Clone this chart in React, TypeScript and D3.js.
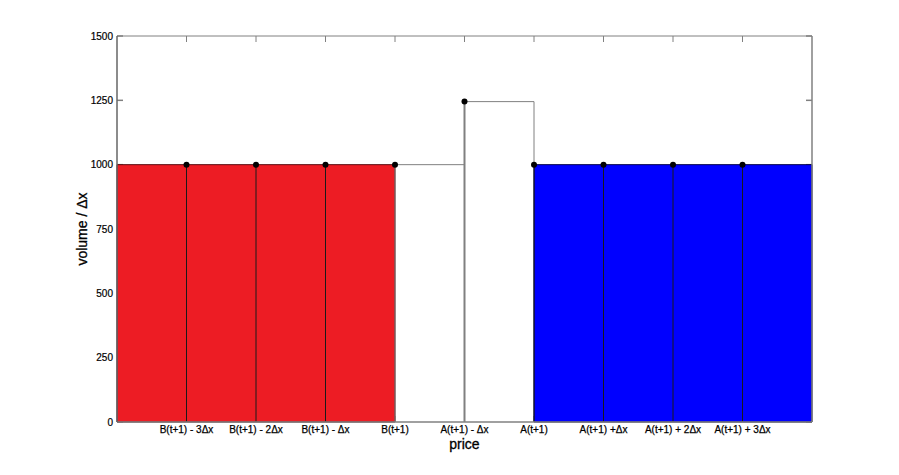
import React from 'react';
import * as d3 from 'd3';

const priceLabels = [
  'B(t+1) - 3Δx', 'B(t+1) - 2Δx', 'B(t+1) - Δx', 'B(t+1)',
  'A(t+1) - Δx', 'A(t+1)', 'A(t+1) +Δx', 'A(t+1) + 2Δx', 'A(t+1) + 3Δx',
];
const pricePositions = [1, 2, 3, 4, 5, 6, 7, 8, 9];
const stemValues = [1000, 1000, 1000, 1000, 1245, 1000, 1000, 1000, 1000];
const bidPositions = [0, 1, 2, 3, 4];
const bidValues = [1000, 1000, 1000, 1000, 1000];
const askPositions = [6, 7, 8, 9, 10];
const askValues = [1000, 1000, 1000, 1000, 1000];
const gapPositions = [4, 5, 6];
const gapValues = [1000, 1245, 1000];
const yTicks = [0, 250, 500, 750, 1000, 1250, 1500];

const W = 899, H = 475;
const L = 117, R = 812, T = 36, B = 422;

export default function App() {
  const x = d3.scaleLinear().domain([0, 10]).range([L, R]);
  const y = d3.scaleLinear().domain([0, 1500]).range([B, T]);
  const area = d3.area<[number, number]>()
    .x(d => x(d[0])).y0(y(0)).y1(d => y(d[1]));
  const bid = bidPositions.map((p, i) => [p, bidValues[i]] as [number, number]);
  const ask = askPositions.map((p, i) => [p, askValues[i]] as [number, number]);
  const stairs = d3.line<[number, number]>().x(d => x(d[0])).y(d => y(d[1])).curve(d3.curveStepAfter);
  const gap = gapPositions.map((p, i) => [p, gapValues[i]] as [number, number]);
  const tl = 6;
  const frame = '#808080';
  const font = 'Liberation Sans, Arial, sans-serif';
  return (
    <svg width={W} height={H} style={{ position: 'absolute', left: 0, top: 0, background: '#fff' }}>
      <rect x={0} y={0} width={W} height={H} fill="#fff" />
      {yTicks.map(t => (
        <g key={'yt' + t}>
          <line x1={L} x2={L + tl} y1={y(t)} y2={y(t)} stroke={frame} strokeWidth={1.5} />
          <line x1={R} x2={R - tl} y1={y(t)} y2={y(t)} stroke={frame} strokeWidth={1.5} />
        </g>
      ))}
      {pricePositions.map(p => (
        <g key={'xt' + p}>
          <line x1={x(p)} x2={x(p)} y1={T} y2={T + tl} stroke={frame} strokeWidth={1} />
          <line x1={x(p)} x2={x(p)} y1={B} y2={B - tl} stroke={frame} strokeWidth={1} />
        </g>
      ))}
      <path d={area(bid) || ''} fill="#ED1C24" stroke="#5a0a0e" strokeWidth={1} />
      <path d={area(ask) || ''} fill="#0000FF" stroke="#00004a" strokeWidth={1} />
      <path d={stairs(gap) || ''} fill="none" stroke={frame} strokeWidth={1} />
      {pricePositions.map((p, i) => (
        <line key={'s' + p} x1={x(p)} x2={x(p)} y1={y(0)} y2={y(stemValues[i])}
          stroke={p === 5 || p === 4 ? frame : '#1a1a1a'} strokeWidth={p === 5 ? 2 : 1} />
      ))}
      {pricePositions.map((p, i) => (
        <circle key={'d' + p} cx={x(p)} cy={y(stemValues[i])} r={3} fill="#000" />
      ))}
      <line x1={L} x2={R} y1={T} y2={T} stroke={frame} strokeWidth={1} />
      <line x1={R} x2={R} y1={T} y2={B} stroke={frame} strokeWidth={1.5} />
      <line x1={L} x2={R} y1={B} y2={B} stroke={frame} strokeWidth={1.5} />
      <line x1={L} x2={L} y1={T} y2={B} stroke="#666" strokeWidth={1.5} />
      {yTicks.map(t => (
        <text key={'yl' + t} x={L - 4} y={y(t)} dy="0.35em" textAnchor="end"
          fontFamily={font} fontSize={10} fill="#000" stroke="#000" strokeWidth={0.2}>{t}</text>
      ))}
      {pricePositions.map((p, i) => (
        <text key={'xl' + p} x={x(p)} y={433} textAnchor="middle"
          fontFamily={font} fontSize={10} fill="#000" stroke="#000" strokeWidth={0.25}>{priceLabels[i]}</text>
      ))}
      <text x={(L + R) / 2} y={449} textAnchor="middle" fontFamily={font} fontSize={14} fill="#000"
        stroke="#000" strokeWidth={0.3}>price</text>
      <text transform={`translate(87,${(T + B) / 2}) rotate(-90)`} textAnchor="middle"
        fontFamily={font} fontSize={14} fill="#000" stroke="#000" strokeWidth={0.3}>volume / Δx</text>
    </svg>
  );
}
